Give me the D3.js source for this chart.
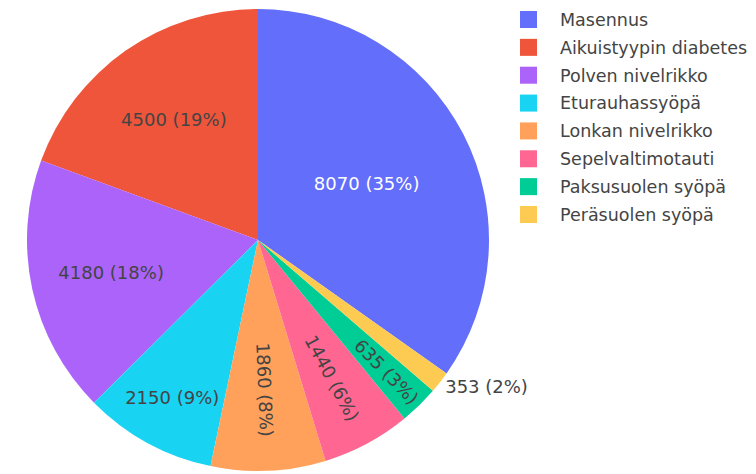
<!DOCTYPE html>
<html><head><meta charset="utf-8">
<script src="https://cdn.jsdelivr.net/npm/d3@7"></script>
<style>body{margin:0;background:#fff} svg{display:block}</style>
</head><body><svg id="c" width="756" height="474"></svg>
<script>
const categories = ["Masennus","Aikuistyypin diabetes","Polven nivelrikko","Eturauhassyöpä","Lonkan nivelrikko","Sepelvaltimotauti","Paksusuolen syöpä","Peräsuolen syöpä"];
const values = [8070,4500,4180,2150,1860,1440,635,353];
const colors = ["#636efa","#EF553B","#ab63fa","#19d3f3","#FFA15A","#FF6692","#00cc96","#FECB52"];

const W = 756, H = 474, cx = 258, cy = 240, R = 231;
const FONT = "DejaVu Sans, Verdana, sans-serif";
const svg = d3.select("#c");
const total = d3.sum(values);
const data = categories.map((c, i) => ({c, v: values[i], color: colors[i]}));
const a0 = 2 * Math.PI * values[0] / total;
const pie = d3.pie().sort(null).value(d => d.v).startAngle(a0).endAngle(a0 - 2 * Math.PI);
const arcs = pie(data);
const arc = d3.arc().innerRadius(0).outerRadius(R);
const g = svg.append("g").attr("transform", `translate(${cx},${cy})`);
g.selectAll("path").data(arcs).join("path").attr("d", arc).attr("fill", d => d.data.color);

function contrast(col) {
  const c = d3.rgb(col);
  const l = (0.299 * c.r + 0.587 * c.g + 0.114 * c.b) / 255;
  return l < 0.5 ? "#ffffff" : "#444444";
}
const pct = d3.format(".0%");
arcs.forEach(d => {
  const label = `${d.data.v} (${pct(d.data.v / total)})`;
  const t = g.append("text").text(label)
    .style("font-family", FONT).style("font-size", "18px");
  const bb = t.node().getBBox();
  const w = bb.width, h = bb.height;
  const bcx = bb.x + w / 2, bcy = bb.y + h / 2;
  const m = (d.startAngle + d.endAngle) / 2;
  const half = Math.abs(d.endAngle - d.startAngle) / 2;
  const ux = Math.sin(m), uy = -Math.cos(m);
  let tx, ty, rot = 0, inside = true;
  const rI = Math.sin(half) / (1 + Math.sin(half));
  const diam = Math.sqrt(w * w + h * h);
  if (rI * R * 2 / diam >= 1) {
    tx = ux * R * (1 - rI); ty = uy * R * (1 - rI);
  } else {
    const r2 = R - 6, a = w / h;
    const q = a + 1 / (2 * Math.tan(half));
    const s = r2 * Math.min(1 / (Math.sqrt(q * q + 0.5) + q), 1 / (Math.sqrt(a * a + 0.5) + a));
    if (2 * s / h >= 1) {
      const b = s / r2;
      const rc = Math.cos(b) - a * b;
      tx = ux * R * rc; ty = uy * R * rc;
      let deg = ((m * 180 / Math.PI) % 360 + 360) % 360 - 90;
      if (deg > 90) deg -= 180;
      rot = deg;
    } else {
      inside = false;
      const x = ux * R, y = uy * R;
      let dx = w / 2, dy = h / 2;
      if (x < 0) dx = -dx;
      if (y < 0) dy = -dy;
      tx = x + dx + Math.abs(dy) * (dx > 0 ? 1 : -1) / 2;
      ty = y + dy / (1 + x * x / (y * y));
    }
  }
  t.attr("transform", `translate(${tx},${ty}) rotate(${rot}) translate(${-bcx},${-bcy})`)
   .attr("fill", inside ? contrast(d.data.color) : "#444444");
});

const legend = svg.append("g");
const ly = d3.scalePoint().domain(categories).range([19.5, 214.5]);
const items = legend.selectAll("g").data(data).join("g")
  .attr("transform", d => `translate(520,${ly(d.c)})`);
items.append("rect").attr("x", 0).attr("y", -8.5).attr("width", 17).attr("height", 17)
  .attr("fill", d => d.color);
items.append("text").attr("x", 40).attr("dy", "0.36em").text(d => d.c)
  .style("font-family", FONT).style("font-size", "17.5px").attr("fill", "#444444");
</script></body></html>
